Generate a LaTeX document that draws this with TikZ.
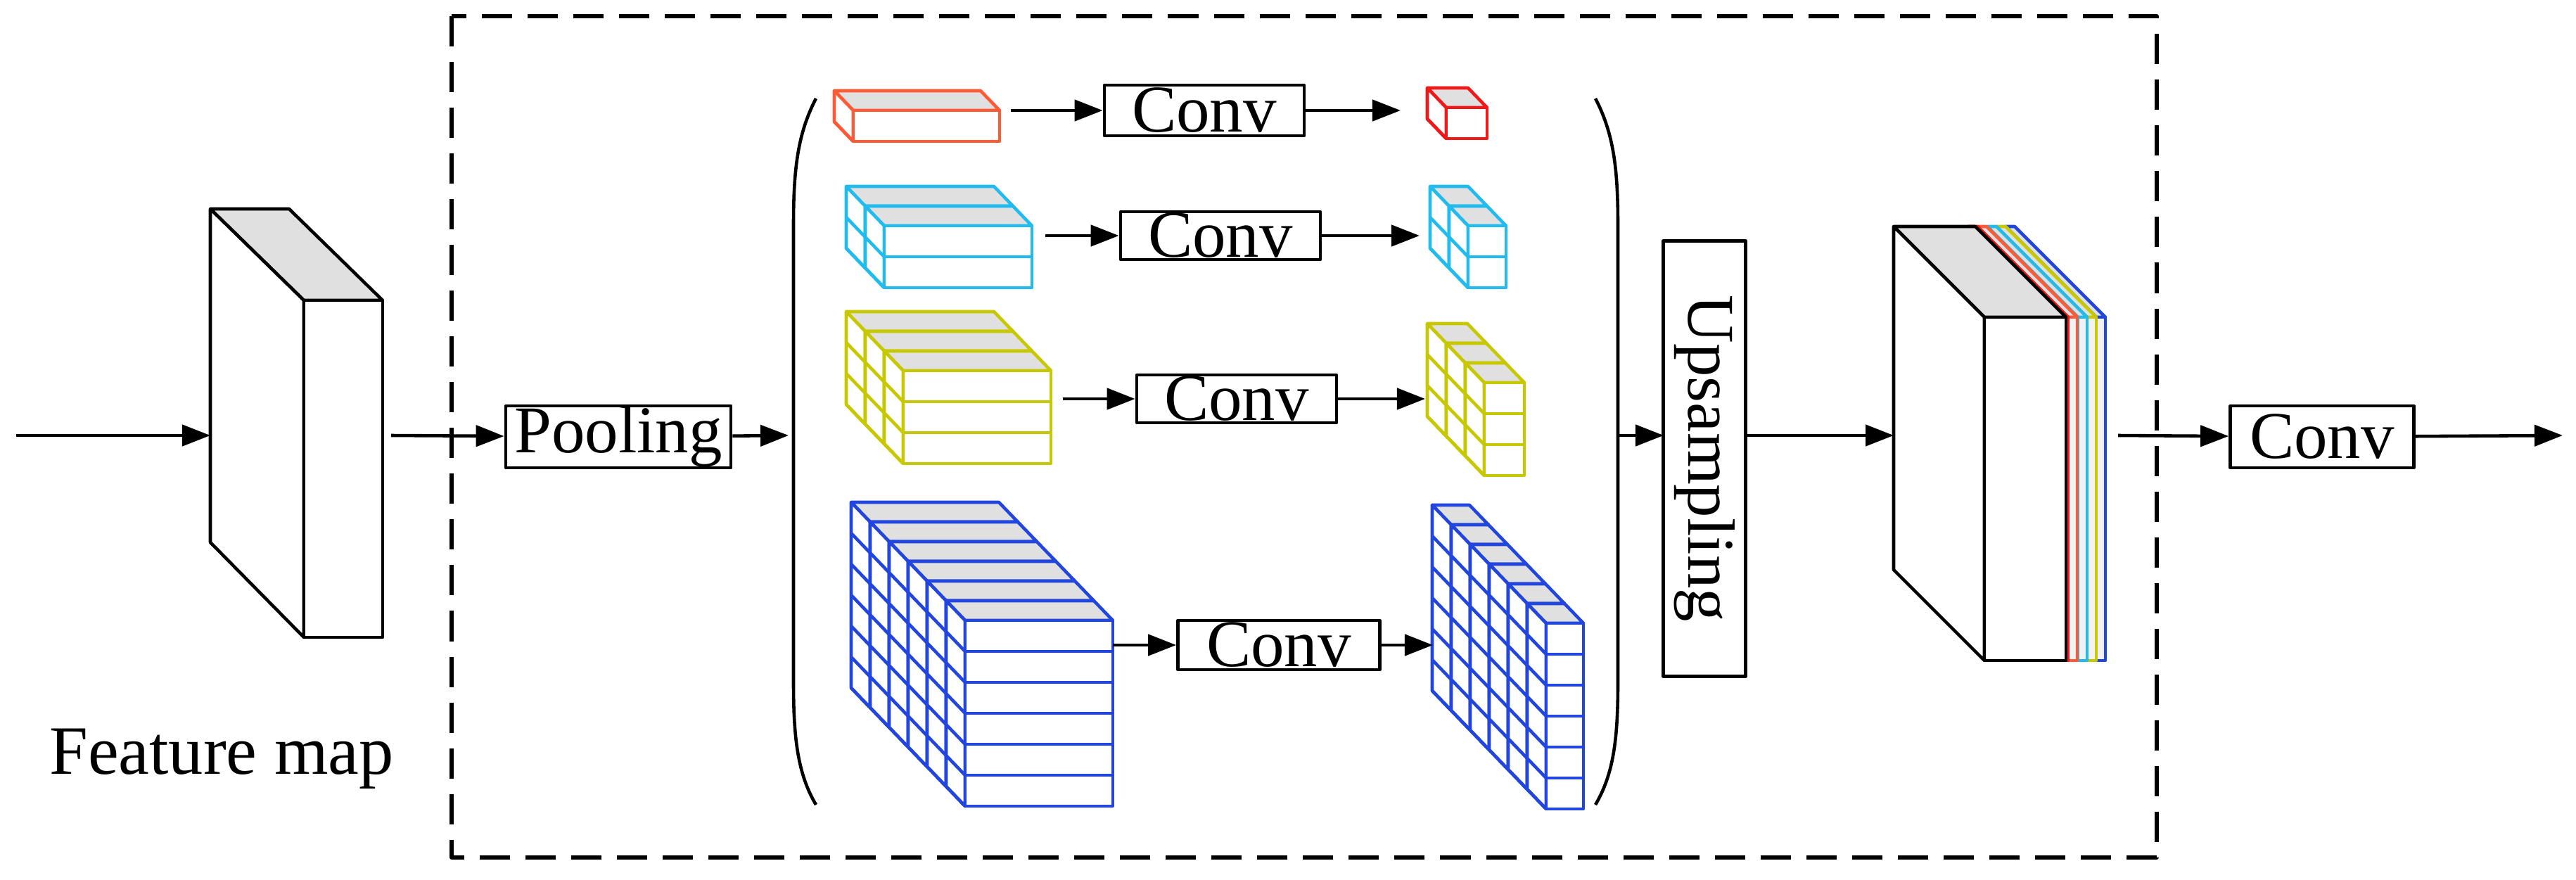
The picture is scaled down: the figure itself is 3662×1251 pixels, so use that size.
\documentclass[tikz,border=0pt]{standalone}
\usepackage{fontspec}
\setmainfont{Liberation Serif}
\definecolor{ppmred}{HTML}{FF5A36}
\definecolor{ppmdeep}{HTML}{F01818}
\definecolor{ppmcyan}{HTML}{22BBEE}
\definecolor{ppmyellow}{HTML}{C8C800}
\definecolor{ppmblue}{HTML}{2246DD}
\definecolor{ppmgray}{HTML}{E0E0E0}
\usepackage{tikz}
\usetikzlibrary{arrows.meta, positioning, calc}

\tikzset{
  ppmarrow/.style={-{Triangle[length=0.4cm, width=0.3cm]}, line width=1.3pt},
  ppmbox/.style={draw, line width=1.3pt, inner sep=0pt, font=\fontsize{27}{30}\selectfont},
}

% feature block: colour, front top-left x, y, width, rows, last layer index
\newcommand{\ppmblock}[6]{%
  \foreach \k in {#6,...,0}{
    \pgfmathsetmacro{\lx}{#2-27*\k}
    \pgfmathsetmacro{\ly}{#3-28*\k}
    \pgfmathsetmacro{\lh}{44*#5}
    \filldraw[draw=#1, fill=ppmgray] (\lx,\ly) -- ++(#4,0) -- ++(-27,-28) -- ++(-#4,0) -- cycle;
    \filldraw[draw=#1, fill=white] (\lx,\ly) -- ++(-27,-28) -- ++(0,\lh) -- ++(27,28) -- cycle;
    \filldraw[draw=#1, fill=white] (\lx,\ly) rectangle ++(#4,\lh);
    \foreach \r in {1,...,#5}{
      \draw[#1] (\lx,\ly+44*\r) -- ++(#4,0);
      \draw[#1] (\lx,\ly+44*\r) -- ++(-27,-28);
    }
  }}

\begin{document}
\begin{tikzpicture}[x=0.01cm, y=-0.01cm, line width=1.3pt, line join=round]
  \useasboundingbox (0,0) rectangle (3662,1251);
  % Dashed frame
  \draw[line width=1.5pt, dash pattern=on 0.43cm off 0.22cm] (642,23) rectangle (3066,1219);

  % Input feature map
  \filldraw[fill=ppmgray] (299,297) -- (411,297) -- (544,427) -- (432,427) -- cycle;
  \filldraw[fill=white] (299,297) -- (432,427) -- (432,906) -- (299,771) -- cycle;
  \filldraw[fill=white] (432,427) rectangle (544,906);
  \node[font=\fontsize{28}{30}\selectfont] (fmlabel) at (315,1079) {Feature map};
  \coordinate (in) at (23,619);
  \coordinate (fmL) at (299,619);
  \coordinate (fmR) at (556,619);
  \draw[ppmarrow] (in) -- (fmL);

  % Pooling
  \node[ppmbox, minimum width=3.2cm, minimum height=0.88cm] (pool) at (879,621) {Pooling};
  \draw[ppmarrow] (fmR) -- (pool);
  \coordinate (parL) at (1121,619);
  \draw[ppmarrow] (pool) -- (parL);

  % Brackets
  \draw (1160,140) .. controls (1134,190) and (1128,240) .. (1128,320) -- (1128,970)
        .. controls (1128,1050) and (1134,1100) .. (1160,1144);
  \draw (2268,140) .. controls (2294,190) and (2300,240) .. (2300,320) -- (2300,970)
        .. controls (2300,1050) and (2294,1100) .. (2268,1144);

  % Pyramid levels
  \ppmblock{ppmred}{1213}{157}{208}{1}{0}
  \ppmblock{ppmdeep}{2056}{153}{58}{1}{0}
  \ppmblock{ppmcyan}{1257}{321}{210}{2}{1}
  \ppmblock{ppmcyan}{2087}{321}{54}{2}{1}
  \ppmblock{ppmyellow}{1284}{527}{210}{3}{2}
  \ppmblock{ppmyellow}{2110}{544}{57}{3}{2}
  \ppmblock{ppmblue}{1372}{882}{210}{6}{5}
  \ppmblock{ppmblue}{2198}{886}{53}{6}{5}

  \node[ppmbox, minimum width=2.84cm, minimum height=0.72cm] (conva) at (1712,157) {Conv};
  \node[ppmbox, minimum width=2.84cm, minimum height=0.68cm] (convb) at (1735,335) {Conv};
  \node[ppmbox, minimum width=2.84cm, minimum height=0.68cm] (convc) at (1758,567) {Conv};
  \node[ppmbox, minimum width=2.87cm, minimum height=0.70cm] (convd) at (1818,917) {Conv};
  \coordinate (ina) at (1437,157);  \coordinate (outa) at (1991,157);
  \coordinate (inb) at (1486,335);  \coordinate (outb) at (2018,335);
  \coordinate (inc) at (1511,567);  \coordinate (outc) at (2026,567);
  \coordinate (ind) at (1582,917);  \coordinate (outd) at (2037,917);
  \foreach \n in {a,b,c,d}{
    \draw[ppmarrow] (in\n) -- (conv\n);
    \draw[ppmarrow] (conv\n) -- (out\n);
  }

  % Upsampling
  \node[ppmbox, rotate=-90, minimum width=6.19cm, minimum height=1.17cm] (up) at (2423,652) {Upsampling};
  \coordinate (parR) at (2300,619);
  \coordinate (upL) at (2365,619);
  \coordinate (upR) at (2482,619);
  \draw[ppmarrow] (parR) -- (upL);
  \coordinate (outL) at (2692,619);
  \draw[ppmarrow] (upR) -- (outL);

  % Concatenated output
  \foreach \x/\c in {2993/ppmblue, 2980/ppmyellow, 2967/ppmcyan, 2953/ppmred, 2940/ppmdeep}{
    \filldraw[draw=\c, fill=ppmgray] (\x-142,322) -- (\x-129,322) -- (\x,451) -- (\x-13,451) -- cycle;
    \filldraw[draw=\c, fill=white!95!black] (\x-13,451) rectangle (\x,939);
  }
  \filldraw[fill=ppmgray] (2692,322) -- (2808,322) -- (2937,451) -- (2821,451) -- cycle;
  \filldraw[fill=white] (2692,322) -- (2821,451) -- (2821,939) -- (2692,810) -- cycle;
  \filldraw[fill=white] (2821,451) rectangle (2937,939);

  % Final convolution
  \coordinate (outR) at (3011,619);
  \node[ppmbox, minimum width=2.61cm, minimum height=0.88cm] (convf) at (3301,621) {Conv};
  \draw[ppmarrow] (outR) -- (convf);
  \coordinate (out) at (3643,619);
  \draw[ppmarrow] (convf) -- (out);
\end{tikzpicture}
\end{document}
